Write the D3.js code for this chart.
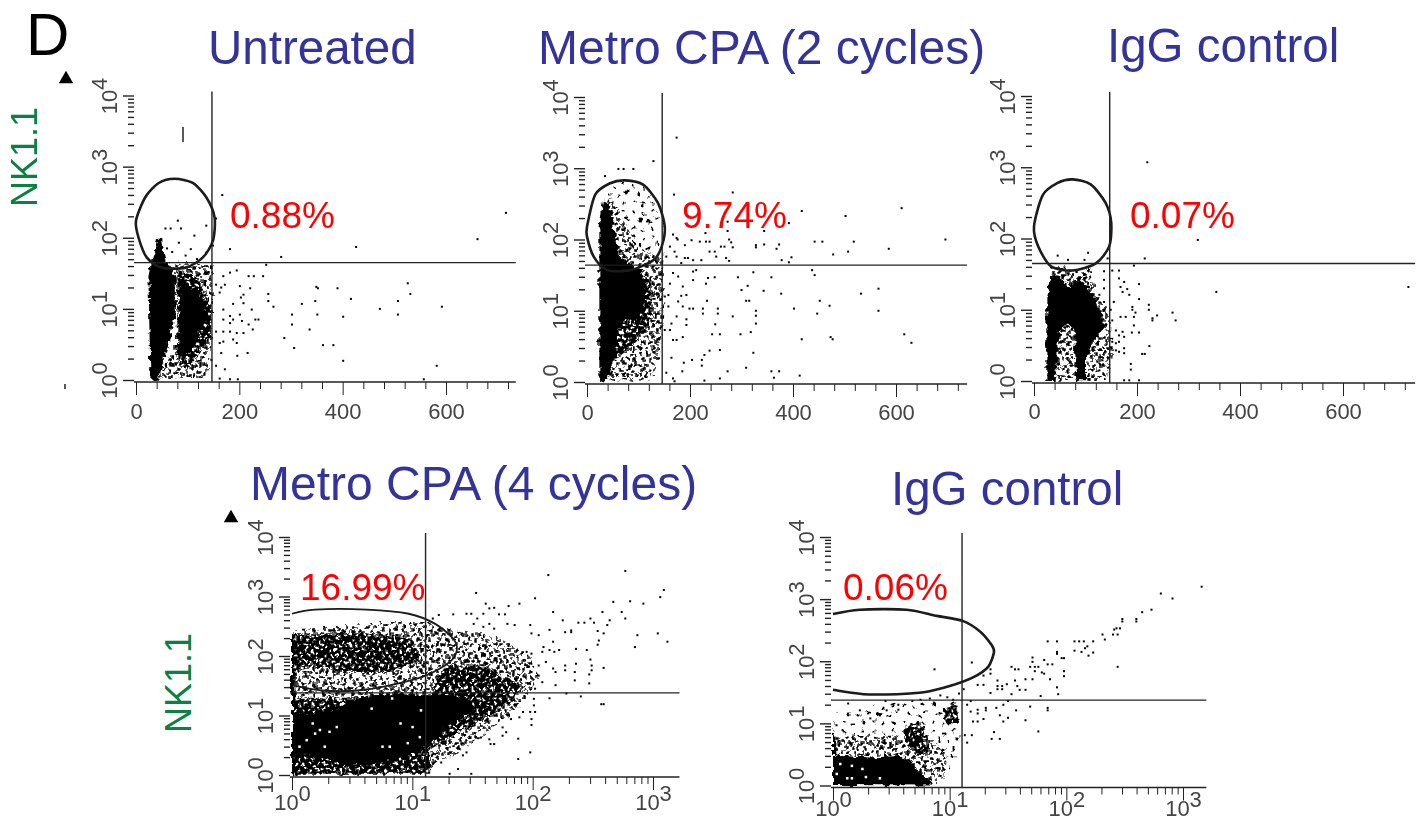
<!DOCTYPE html>
<html>
<head>
<meta charset="utf-8">
<script src="https://cdn.jsdelivr.net/npm/d3@7"></script>
<style>
  html, body { margin: 0; background: #fff; }
  text { font-family: "Liberation Sans", Arial, sans-serif; }
</style>
</head>
<body>
<div id="chart"></div>
<script>
// all fluorescence values are stored as log10, so 2.3 means 10^2.3
// top row: [linear x, log10 y], bottom row: [log10 x, log10 y]

// --- Untreated
var untreatedGate = [[0,2.24],[18,2.57],[44,2.77],[75,2.83],[110,2.77],[136,2.57],[152,2.29],[149,1.96],[129,1.72],[96,1.58],[50,1.58],[21,1.72],[5,2.0]];
var untreatedSolid = [
  [[30,1.7],[34,1.72],[41,2.0],[50,2.0],[57,1.67],[64,1.63],[77,1.44],[77,.97],[64,.54],[44,.02],[28,0],[24,1.44]],
  [[83,1.44],[103,1.34],[129,1.16],[139,.87],[123,.68],[110,.45],[90,.26],[83,.45],[87,1.11]]
];
var untreatedHeavy = [[[80,1.55],[120,1.45],[145,1.05],[145,.6],[120,.35],[95,.1],[80,.3]]];
var untreatedMedium = [[[64,1.67],[149,1.63],[149,.64],[136,.03],[44,.02],[77,.54],[83,1.2],[77,1.44]]];
var untreatedLight = [];
var untreatedGaps = [];
var untreatedPoints = [[167,2.6],[716,2.35],[661,1.98],[426,1.87],[182,1.84],[281,1.73],[252,1.62],[155,2.27],[349,1.31],[352,1.29],[390,1.29],[526,1.36],[531,1.21],[416,1.14],[256,1.21],[256,1.11],[266,1.03],[321,1.07],[347,1.11],[507,1.11],[592,1.03],[472,1.0],[302,.92],[351,.92],[401,.89],[507,.92],[302,.78],[336,.71],[287,.59],[362,.49],[382,.49],[306,.45],[401,.27],[582,.2],[557,.01],
  [165,1.30],[172,1.34],[182,1.51],[195,1.54],[218,1.46],[228,1.46],[246,1.46],[201,1.32],[221,1.29],[208,1.20],[203,1.16],[208,1.08],[188,1.07],[224,.99],[162,1.23],[169,.99],[182,.90],[188,.85],[201,.92],[205,.83],[182,.80],[169,.85],[218,.78],[231,.85],[237,.85],[226,.71],[208,.66],[195,.66],[182,.68],[169,.68],[155,.68],[188,.57],[162,.52],[169,.54],[195,.52],[165,.38],[196,.34],[216,.38],[172,.15],[155,.20],[182,.01],[197,.01],[162,.02],[146,.28],[169,1.46],[155,1.34],
  [81,2.24],[57,2.13],[67,2.13],[87,2.13],[136,2.17],[113,2.03],[83,1.93],[106,1.84],[149,1.89],[136,1.79],[96,1.75],[118,1.7],[70,1.8],[60,1.85]];

// --- Metro CPA (2 cycles)
var twoCycleGate = [[0,2.18],[16,2.63],[45,2.79],[74,2.83],[109,2.77],[138,2.51],[151,2.18],[145,1.9],[129,1.71],[84,1.57],[39,1.57],[13,1.76],[0,2.04]];
var twoCycleSolid = [[[24,0],[24,2.14],[31,2.56],[42,2.51],[55,2.04],[64,1.76],[103,1.57],[113,1.2],[103,.82],[77,.92],[61,.73],[51,.35],[42,.02]]];
var twoCycleHeavy = [[[42,2.0],[64,1.76],[103,1.57],[125,1.4],[125,.9],[90,.5],[50,.3]]];
var twoCycleMedium = [[[40,2.6],[70,2.3],[100,1.9],[148,1.7],[148,.92],[138,.26],[122,.02],[40,.02]]];
var twoCycleLight = [[[35,2.86],[109,2.75],[148,2.28],[148,1.67],[40,1.67]]];
var twoCycleGaps = [];
var twoCyclePoints = [[174,3.43],[129,3.10],[61,2.99],[71,2.99],[90,2.99],[35,2.89],[169,2.63],[283,2.66],[417,2.40],[502,2.33],[611,2.44],[392,2.23],[344,2.12],[273,2.25],[273,2.12],[230,2.09],[696,2.0],[586,1.87],[518,1.97],[507,1.83],[478,1.79],[442,1.97],[457,1.97],[397,1.75],[378,1.71],[392,1.68],[373,1.93],[368,1.87],[344,1.93],[328,1.92],[328,1.89],[283,1.89],[276,2.0],[280,1.96],[260,1.9],[267,1.9],[238,1.97],[231,1.97],[219,1.97],[203,1.99],[190,1.92],[176,2.0],[167,2.07],[174,2.02],[161,1.9],[170,1.83],[154,1.76],[238,1.83],[248,1.83],[190,1.74],[196,1.74],[206,1.71],[222,1.71],[251,1.76],[270,1.74],[276,1.7],[174,1.76],[183,1.67],[437,1.57],[442,1.5],[323,1.54],[358,1.47],[293,1.47],[235,1.46],[248,1.47],[231,1.38],[312,1.35],[300,1.29],[343,1.28],[377,1.24],[566,1.31],[532,1.24],[452,1.14],[471,1.07],[402,1.03],[447,.96],[566,1.0],[309,1.14],[315,1.14],[233,1.14],[193,1.22],[183,1.21],[199,1.03],[206,1.03],[225,1.03],[225,.96],[254,1.03],[254,.96],[283,.92],[328,1.0],[328,.93],[328,.82],[249,.81],[193,.88],[193,.8],[243,.67],[258,.67],[298,.67],[318,.7],[473,.63],[477,.6],[417,.6],[616,.67],[630,.55],[323,.41],[258,.45],[238,.44],[228,.38],[204,.31],[188,.27],[223,.31],[223,.23],[164,.34],[185,.15],[154,.13],[273,.15],[309,.2],[358,.15],[373,.15],[363,.06],[413,.09],[258,.05],[228,.02],[167,.05],[170,.01],
  [151,1.2],[158,1.22],[158,1.06],[164,.82],[174,.92],[151,.73],[161,.73],[167,.59],[174,.59],[186,.63],[177,1.13],[186,1.06],[186,1.34],[167,1.53],[177,1.48],[161,1.38],[206,1.55],[206,1.43],[212,1.57]];

// --- IgG control, top row
var topIgGGate = [[0,2.17],[17,2.61],[46,2.78],[75,2.83],[110,2.76],[139,2.5],[150,2.22],[146,1.89],[120,1.65],[75,1.55],[33,1.61],[8,1.89]];
var topIgGSolid = [[[24,0],[24,1.18],[32,1.49],[50,1.46],[69,1.32],[88,1.44],[114,1.23],[133,.9],[136,.76],[111,.53],[101,.24],[101,.01],[82,.01],[78,.71],[66,.81],[50,.71],[44,.24],[40,0]]];
var topIgGHeavy = [];
var topIgGMedium = [
  [[44,0],[44,.8],[78,.8],[82,0]],
  [[114,1.23],[145,1.0],[152,.43],[143,0],[101,0],[111,.53]],
  [[32,1.6],[110,1.58],[120,1.2],[32,1.45]]
];
var topIgGLight = [];
var topIgGGaps = [];
var topIgGPoints = [[220,3.07],[318,1.98],[215,1.72],[194,1.62],[727,1.32],[354,1.25],[46,1.76],[105,1.8],[66,1.7],[98,1.7],[143,1.72],[204,1.36],[165,1.44],[175,1.39],[152,1.55],[165,1.55],[168,1.32],[172,1.25],[181,1.29],[185,1.21],[204,1.15],[223,1.07],[223,1.0],[191,1.04],[191,1.0],[197,.96],[239,.92],[230,.88],[230,.85],[269,.96],[275,.85],[168,.9],[178,.9],[194,.9],[194,.78],[190,.68],[204,.68],[172,.69],[175,.62],[165,.64],[155,1.11],[149,1.0],[152,.85],[159,.71],[152,.55],[159,.53],[165,.55],[224,.49],[175,.46],[175,.39],[159,.43],[165,.41],[210,.38],[215,.38],[188,.24],[188,.16],[175,.01],[185,.01],[204,.01],[136,1.54],[136,1.42],[136,1.3],[127,1.21],[136,1.11],[120,1.04],[133,.29],[127,.15],[114,.06]];

// --- Metro CPA (4 cycles)
var fourCycleGate = [[0,2.71],[.19,2.78],[.62,2.78],[.97,2.71],[1.19,2.54],[1.34,2.29],[1.37,2.1],[1.31,1.9],[1.11,1.67],[.82,1.51],[.54,1.42],[.25,1.42],[0,1.51]];
var fourCycleSolid = [
  [[0,1.0],[.31,1.06],[.54,1.28],[.65,1.34],[.88,1.36],[1.11,1.34],[1.28,1.34],[1.48,1.28],[1.52,1.11],[1.39,.94],[1.25,.78],[1.14,.49],[.91,.3],[.65,.18],[.42,.18],[.25,.3],[.08,.35],[0,.3]],
  [[0,0],[.02,0],[.02,2.35],[0,2.35]]
];
var fourCycleHeavy = [
  [[0,2.35],[.54,2.4],[.99,2.29],[1.08,1.96],[.82,1.73],[.42,1.73],[.19,1.84],[0,1.73]],
  [[1.28,1.84],[1.57,1.84],[1.94,1.45],[1.68,1.06],[1.39,.72],[1.14,.44],[1.14,1.34]],
  [[0,.02],[0,1.3],[.5,1.3],[1.14,.9],[1.14,.02]]
];
var fourCycleMedium = [[[0,2.43],[.42,2.49],[.82,2.57],[1.11,2.57],[1.34,2.43],[1.57,2.4],[1.79,2.24],[1.97,2.01],[2.05,1.67],[1.97,1.34],[1.85,1.06],[1.68,.83],[1.51,.55],[1.34,.33],[1.17,.16],[1.11,.02],[0,.02]]];
var fourCycleLight = [];
var fourCycleGaps = [[.17,.87],[.23,.76],[.31,.73],[.37,.81],[.06,.48],[.12,.59],[.27,.48],[.75,.48],[.81,.48],[.9,.87],[.96,.54],[1.0,.81],[1.07,1.09],[.66,1.12],[.83,1.29],[1.06,.64],[.19,.7]];
var fourCyclePoints = [[2.77,3.43],[2.13,3.36],[1.53,3.06],[3.09,3.11],[3.06,2.99],[2.67,2.91],[2.81,2.92],[2.92,2.88],[2.58,2.74],[2.74,2.74],[2.77,2.63],[2.64,2.6],[2.62,2.52],[2.48,2.63],[2.38,2.56],[2.43,2.56],[2.51,2.56],[2.54,2.42],[2.59,2.38],[2.87,2.35],[3.04,2.38],[3.12,2.24],[2.85,2.15],[2.55,2.26],[2.54,2.19],[2.17,2.74],[2.02,2.97],[1.89,2.88],[1.8,2.84],[1.68,2.81],[1.61,2.88],[2.14,2.44],[2.25,2.6],[2.27,2.4],[2.32,2.4],[2.32,2.43],[2.17,2.24],[2.09,2.15],[2.05,2.35],[1.98,2.52],[1.99,2.38],[2.45,2.1],[2.36,2.12],[2.22,2.1],[2.18,2.07],[2.14,2.1],[2.08,2.07],[1.99,2.04],[1.95,2.07],[2.48,1.94],[2.36,1.87],[2.27,1.84],[2.49,1.84],[2.49,1.76],[2.59,1.8],[2.47,1.69],[2.35,1.73],[2.35,1.59],[2.27,1.76],[2.17,1.79],[2.11,1.9],[2.19,1.73],[2.05,1.84],[1.99,1.73],[2.05,1.67],[2.08,1.56],[2.02,1.45],[2.19,1.51],[2.28,1.37],[2.47,1.54],[2.4,1.32],[2.57,1.19],[2.59,1.19],[2.14,1.29],[2.01,1.28],[2.01,1.17],[1.98,1.06],[2.02,1.06],[1.99,.94],[1.99,.84],[1.92,1.06],[1.89,.97],[1.82,.94],[1.75,.8],[1.75,.66],[1.78,.72],[1.88,.61],[1.98,.38],[1.88,.27],[1.65,.52],[1.68,.52],[1.64,.6],[1.57,.63],[1.45,.38],[1.42,.33],[1.38,.1],[1.49,.02],[1.31,.02],[1.19,.35],[1.17,.19],[1.24,.21],[1.45,2.71],[1.49,2.71],[1.34,2.7],[1.22,2.69],[1.17,2.63],[1.54,2.63],[1.59,2.71],[1.64,2.8],[1.72,2.7],[1.77,2.7],[1.64,2.54],[1.59,2.49],[1.68,2.46],[1.79,2.54],[1.85,2.52],[1.51,2.54]];

// --- IgG control, bottom row
var bottomIgGGate = [[0,2.76],[.23,2.83],[.63,2.83],[.89,2.73],[1.11,2.65],[1.26,2.48],[1.36,2.26],[1.38,2.15],[1.33,1.91],[1.2,1.74],[1.0,1.6],[.78,1.5],[.55,1.47],[.26,1.47],[0,1.54]];
var bottomIgGSolid = [[[0,.01],[0,.86],[.02,.86],[.02,.48],[.32,.45],[.61,.48],[.69,.31],[.81,.09],[.86,0]]];
var bottomIgGHeavy = [
  [[.58,.89],[.72,1.03],[.82,.8],[.81,.48],[.66,.6]],
  [[.93,1.25],[1.06,1.3],[1.08,1.0],[.98,.98]]
];
var bottomIgGMedium = [[[0,.48],[0,.78],[.3,.8],[.6,.8],[.85,.75],[.98,.48],[.95,.1],[.86,0]]];
var bottomIgGLight = [[[0,.9],[0,1.15],[.46,1.32],[.89,1.35],[1.1,1.4],[1.1,.7],[.95,.1],[.6,.5]]];
var bottomIgGGaps = [[.03,.19],[.12,.12],[.16,.12],[.25,.27],[.28,.14],[.4,.12],[.06,.35],[.16,.32]];
var bottomIgGPoints = [[3.16,3.2],[2.81,3.09],[2.91,3.01],[2.73,2.83],[2.65,2.79],[2.48,2.68],[2.48,2.64],[2.6,2.68],[2.6,2.64],[2.41,2.51],[2.43,2.53],[2.46,2.53],[2.31,2.43],[2.33,2.35],[2.4,2.43],[2.44,2.43],[2.44,1.91],[2.07,2.32],[2.11,2.32],[2.15,2.32],[2.23,2.32],[2.07,2.17],[2.13,2.15],[2.16,2.21],[2.18,2.24],[2.23,2.14],[2.19,2.09],[1.84,2.32],[1.92,2.32],[1.92,2.15],[1.92,2.12],[1.96,2.05],[1.98,2.05],[1.98,1.84],[1.98,1.76],[1.71,2.06],[1.71,1.99],[1.81,2.02],[1.84,1.95],[1.88,1.95],[1.53,1.91],[1.56,1.87],[1.59,1.87],[1.69,1.91],[1.73,1.91],[1.76,1.91],[1.73,1.84],[1.79,1.82],[1.81,1.8],[1.86,1.71],[1.65,1.71],[1.71,1.71],[1.35,1.87],[1.35,1.8],[1.29,1.77],[1.24,1.62],[1.29,1.62],[1.41,1.69],[1.41,1.6],[1.41,1.55],[1.45,1.6],[1.49,1.63],[1.45,1.55],[1.56,1.69],[1.58,1.6],[1.6,1.54],[1.65,1.54],[1.92,1.58],[1.93,1.47],[1.78,1.44],[1.53,1.47],[1.35,1.49],[1.19,1.98],[.87,1.87],
  [1.69,1.27],[1.84,1.25],[1.84,1.21],[1.57,1.21],[1.65,1.05],[1.76,.87],[1.5,1.36],[1.46,1.3],[1.4,1.25],[1.43,1.13],[1.5,1.09],[1.46,1.03],[1.38,.86],[1.36,.75],[1.43,.75],[1.31,1.25],[1.31,1.21],[1.24,1.22],[1.24,1.16],[1.29,1.07],[1.24,1.03],[1.2,1.03],[1.15,1.3],[1.18,1.36],[1.18,1.19],[1.19,.81],[1.15,.69],[1.13,.81],
  [.13,1.32],[.23,1.21],[.13,1.13],[.45,1.36],[.56,1.3],[.56,1.22],[.46,1.21],[.41,1.15],[.32,1.08],[.03,.97],[.68,1.36],[.75,1.38],[.83,1.4],[.92,1.45],[.98,1.42],[1.03,1.38],[1.08,1.48],[1.12,1.55]];

var decades = [1, 10, 100, 1000, 10000];
var logMinorTicks = [2,3,4,5,6,7,8,9,20,30,40,50,60,70,80,90,200,300,400,500,600,700,800,900,2000,3000,4000,5000,6000,7000,8000,9000];
var linearTicks = [0, 200, 400, 600];
var linearMinorTicks = [40,80,120,160,240,280,320,360,440,480,520,560,640,680,720];

// dense parts of a cloud cannot be read dot by dot, so they get a stipple fill
var stippleLight = "M3 2h2v2h-2zM13 5h2v2h-2zM22 1h2v2h-2zM8 11h2v2h-2zM18 13h2v2h-2zM26 9h2v2h-2zM3 19h2v2h-2zM12 21h2v2h-2zM22 20h2v2h-2z";
var stippleMedium = "M2 1h2v2h-2zM9 3h2v2h-2zM15 0h2v2h-2zM22 2h2v2h-2zM27 5h2v2h-2zM5 7h2v2h-2zM12 8h2v2h-2zM18 6h2v2h-2zM24 9h2v2h-2zM1 12h2v2h-2zM8 13h2v2h-2zM14 12h2v2h-2zM20 14h2v2h-2zM26 13h2v2h-2zM4 17h2v2h-2zM11 18h2v2h-2zM17 17h2v2h-2zM23 19h2v2h-2zM1 22h2v2h-2zM7 23h2v2h-2zM14 23h2v2h-2zM19 24h2v2h-2zM25 25h2v2h-2z";

var panels = [
  { title: "Untreated", titleX: 208, titleY: 64, titleSize: 47.5, pct: "0.88%", pctX: 230, pctY: 228,
    linearX: true, xRange: [136, 446], yRange: [380, 95.5], xEnd: 735, cutX: 147, cutY: 1.65, labelDrop: 37, gateWidth: 2.6,
    gate: untreatedGate, solid: untreatedSolid, heavy: untreatedHeavy, medium: untreatedMedium, light: untreatedLight, gaps: untreatedGaps, points: untreatedPoints },
  { title: "Metro CPA (2 cycles)", titleX: 538, titleY: 64, titleSize: 48, pct: "9.74%", pctX: 682, pctY: 228,
    linearX: true, xRange: [587, 896], yRange: [382, 97], xEnd: 738, cutX: 146, cutY: 1.64, labelDrop: 36, gateWidth: 2.6,
    gate: twoCycleGate, solid: twoCycleSolid, heavy: twoCycleHeavy, medium: twoCycleMedium, light: twoCycleLight, gaps: twoCycleGaps, points: twoCyclePoints },
  { title: "IgG control", titleX: 1107, titleY: 62, titleSize: 47.5, pct: "0.07%", pctX: 1130, pctY: 228,
    linearX: true, xRange: [1034, 1343], yRange: [381, 96], xEnd: 740, cutX: 147, cutY: 1.65, labelDrop: 36, gateWidth: 2.6,
    gate: topIgGGate, solid: topIgGSolid, heavy: topIgGHeavy, medium: topIgGMedium, light: topIgGLight, gaps: topIgGGaps, points: topIgGPoints },
  { title: "Metro CPA (4 cycles)", titleX: 250, titleY: 500, titleSize: 48, pct: "16.99%", pctX: 300, pctY: 600,
    linearX: false, xRange: [292, 653], yRange: [775, 537], xEnd: 3.22, cutX: 1.11, cutY: 1.38, labelDrop: 33, gateWidth: 1.8,
    gate: fourCycleGate, solid: fourCycleSolid, heavy: fourCycleHeavy, medium: fourCycleMedium, light: fourCycleLight, gaps: fourCycleGaps, points: fourCyclePoints },
  { title: "IgG control", titleX: 891, titleY: 505, titleSize: 47.5, pct: "0.06%", pctX: 843, pctY: 600,
    linearX: false, xRange: [833, 1183], yRange: [785.5, 537], xEnd: 3.2, cutX: 1.106, cutY: 1.375, labelDrop: 28.5, gateWidth: 2.6,
    gate: bottomIgGGate, solid: bottomIgGSolid, heavy: bottomIgGHeavy, medium: bottomIgGMedium, light: bottomIgGLight, gaps: bottomIgGGaps, points: bottomIgGPoints }
];

var svg = d3.select("#chart").append("svg")
    .attr("width", 1424)
    .attr("height", 821)
    .style("display", "block");

var defs = svg.append("defs");
defs.append("filter").attr("id", "soft")
    .attr("x", "-5%").attr("y", "-5%").attr("width", "110%").attr("height", "110%")
    .append("feGaussianBlur").attr("stdDeviation", 0.45);

// roughens the edges of the dense areas and breaks up the stipple grid
var rough = defs.append("filter").attr("id", "rough")
    .attr("x", "-5%").attr("y", "-5%").attr("width", "110%").attr("height", "110%");
rough.append("feTurbulence").attr("type", "fractalNoise")
    .attr("baseFrequency", 0.18).attr("numOctaves", 2).attr("seed", 4).attr("result", "noise");
rough.append("feDisplacementMap").attr("in", "SourceGraphic").attr("in2", "noise")
    .attr("scale", 8).attr("xChannelSelector", "R").attr("yChannelSelector", "G");

function addStipple(id, size, background, ink, d, grow) {
  var p = defs.append("pattern").attr("id", id)
      .attr("patternUnits", "userSpaceOnUse")
      .attr("width", size[0]).attr("height", size[1]);
  p.append("rect").attr("width", size[0]).attr("height", size[1]).attr("fill", background);
  p.append("path").attr("d", d).attr("fill", ink).attr("stroke", ink).attr("stroke-width", grow);
}
addStipple("light", [30, 26], "#fff", "#000", stippleLight, 0.8);
addStipple("medium", [29, 27], "#fff", "#000", stippleMedium, 1.4);
addStipple("heavy", [29, 27], "#000", "#fff", stippleMedium, 0.7);

// writes 10 with a raised exponent into a tick label
function powerLabel(text, rise) {
  text.text(null).each(function(d) {
    var t = d3.select(this);
    t.append("tspan").text("10");
    t.append("tspan").attr("dy", rise).text(Math.round(Math.log10(d)));
  });
}

panels.forEach(function(p) {
  var axisX = p.linearX ? d3.scaleLinear().domain([0, 600]) : d3.scaleLog().domain([1, 1000]);
  axisX.range(p.xRange);
  var axisY = d3.scaleLog().domain([1, 10000]).range(p.yRange);

  // positions from stored values
  var px = function(v) { return p.linearX ? axisX(v) : axisX(Math.pow(10, v)); };
  var py = function(v) { return axisY(Math.pow(10, v)); };

  var g = svg.append("g").attr("filter", "url(#soft)");
  var areaLine = d3.line().x(function(d) { return px(d[0]); }).y(function(d) { return py(d[1]); });

  var dense = g.append("g").attr("filter", "url(#rough)");
  [["light", p.light], ["medium", p.medium], ["heavy", p.heavy]].forEach(function(layer) {
    dense.selectAll(null).data(layer[1]).enter().append("path")
        .attr("d", function(d) { return areaLine(d) + "Z"; })
        .attr("fill", "url(#" + layer[0] + ")");
  });
  dense.selectAll(null).data(p.solid).enter().append("path")
      .attr("d", function(d) { return areaLine(d) + "Z"; })
      .attr("fill", "#000");

  // light holes inside the solid part, then the single events
  g.selectAll(null).data(p.gaps).enter().append("rect")
      .attr("x", function(d) { return px(d[0]) - 1; })
      .attr("y", function(d) { return py(d[1]) - 1; })
      .attr("width", 2.5)
      .attr("height", 2.5)
      .attr("fill", "#fff");
  g.selectAll(null).data(p.points).enter().append("rect")
      .attr("x", function(d) { return px(d[0]) - 1; })
      .attr("y", function(d) { return py(d[1]) - 1; })
      .attr("width", 2)
      .attr("height", 2)
      .attr("fill", "#000");

  // the gate drawn around the NK1.1 population
  var gateLine = d3.line()
      .x(function(d) { return px(d[0]); })
      .y(function(d) { return py(d[1]); })
      .curve(p.linearX ? d3.curveCardinalClosed.tension(0.2) : d3.curveCardinal.tension(0.2));
  g.append("path")
      .attr("d", gateLine(p.gate))
      .attr("fill", "none")
      .attr("stroke", "#1a1a1a")
      .attr("stroke-width", p.gateWidth);

  // quadrant lines
  var yBase = axisY(1) + 2;
  var xLeft = p.xRange[0] - 2;
  g.append("line")
      .attr("x1", xLeft).attr("x2", px(p.xEnd))
      .attr("y1", py(p.cutY)).attr("y2", py(p.cutY))
      .attr("stroke", "#222").attr("stroke-width", 1.4);
  g.append("line")
      .attr("x1", px(p.cutX)).attr("x2", px(p.cutX))
      .attr("y1", axisY(10000) - 4).attr("y2", yBase)
      .attr("stroke", "#222").attr("stroke-width", 1.4);

  // x axis: minor ticks first, then the labelled ones
  var xMinor = p.linearX ? linearMinorTicks : logMinorTicks.filter(function(v) { return v < Math.pow(10, p.xEnd); });
  var xMajor = p.linearX ? linearTicks : decades.slice(0, 4);
  var xAxisMinor = g.append("g")
      .attr("transform", "translate(0," + yBase + ")")
      .call(d3.axisBottom(axisX).tickValues(xMinor).tickSize(7).tickFormat(""));
  xAxisMinor.select(".domain").remove();
  var xAxisMajor = g.append("g")
      .attr("transform", "translate(0," + yBase + ")")
      .call(d3.axisBottom(axisX).tickValues(xMajor).tickSize(13));
  xAxisMajor.select(".domain").remove();
  xAxisMajor.selectAll("line").attr("stroke", "#222");
  xAxisMinor.selectAll("line").attr("stroke", "#222");
  g.append("line")
      .attr("x1", xLeft).attr("x2", px(p.xEnd))
      .attr("y1", yBase).attr("y2", yBase)
      .attr("stroke", "#222").attr("stroke-width", 1.6);

  var xLabels = xAxisMajor.selectAll("text")
      .attr("y", p.labelDrop).attr("dy", 0)
      .attr("font-size", 22)
      .attr("font-family", "Liberation Sans")
      .attr("fill", "#444");
  if (!p.linearX) powerLabel(xLabels, -9);

  // y axis has ticks only, no line
  var yAxisMinor = g.append("g")
      .attr("transform", "translate(" + xLeft + ",0)")
      .call(d3.axisLeft(axisY).tickValues(logMinorTicks).tickSize(6).tickFormat(""));
  yAxisMinor.select(".domain").remove();
  yAxisMinor.selectAll("line").attr("stroke", "#222").attr("stroke-width", 1.4);
  var yAxisMajor = g.append("g")
      .attr("transform", "translate(" + xLeft + ",0)")
      .call(d3.axisLeft(axisY).tickValues(decades).tickSize(11));
  yAxisMajor.select(".domain").remove();
  yAxisMajor.selectAll("line").attr("stroke", "#222").attr("stroke-width", 1.4);
  var yLabels = yAxisMajor.selectAll("text")
      .attr("transform", "rotate(-90)")
      .attr("x", 0).attr("y", -17).attr("dy", 0)
      .attr("text-anchor", "middle")
      .attr("font-size", 22)
      .attr("font-family", "Liberation Sans")
      .attr("fill", "#444");
  powerLabel(yLabels, -10);

  svg.append("text")
      .attr("x", p.titleX).attr("y", p.titleY)
      .attr("font-size", p.titleSize)
      .attr("fill", "#333399")
      .text(p.title);
  svg.append("text")
      .attr("x", p.pctX).attr("y", p.pctY)
      .attr("font-size", 37)
      .attr("fill", "#ff0000")
      .text(p.pct);
});

// panel letter, axis names and the small marks on the figure
svg.append("text").attr("x", 26).attr("y", 55).attr("font-size", 60).attr("fill", "#000").text("D");

[[37, 157], [191, 683]].forEach(function(c) {
  svg.append("text")
      .attr("transform", "translate(" + c[0] + "," + c[1] + ") rotate(-90)")
      .attr("text-anchor", "middle")
      .attr("font-size", 36)
      .attr("fill", "#0a8043")
      .text("NK1.1");
});

[[66, 79], [231, 518]].forEach(function(c) {
  svg.append("path")
      .attr("transform", "translate(" + c[0] + "," + c[1] + ")")
      .attr("d", d3.symbol(d3.symbolTriangle, 90)())
      .attr("fill", "#000");
});

[[183, 127, 142], [65, 384, 389]].forEach(function(m) {
  svg.append("line")
      .attr("x1", m[0]).attr("x2", m[0])
      .attr("y1", m[1]).attr("y2", m[2])
      .attr("stroke", "#222").attr("stroke-width", 1.5);
});
</script>
</body>
</html>
